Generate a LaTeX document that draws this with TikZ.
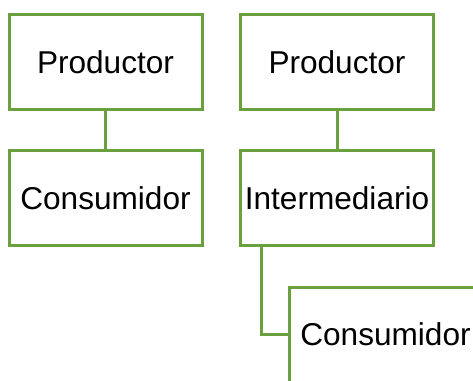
\documentclass[tikz,border=0pt]{standalone}
\usepackage{fontspec}
\setmainfont{Liberation Sans}
\definecolor{boxgreen}{RGB}{106,160,64}

\begin{document}
\begin{tikzpicture}[x=1pt,y=1pt,
        level/.style={draw=boxgreen,line width=3pt,fill=white,
            minimum width=193pt,minimum height=95pt,inner sep=2pt,
            font=\fontsize{31.6}{36}\selectfont},
        link/.style={draw=boxgreen,line width=3pt}]

        \useasboundingbox (0,0) rectangle (473,380);
        \clip (0,0) rectangle (473,380);

        % Define the boxes of the two chains
        \node[level] (prod1) at (105.5,317.5) {Productor};
        \node[level] (cons1) at (105.5,181.5) {Consumidor};
        \node[level] (prod2) at (337,317.5) {Productor};
        \node[level] (inter) at (337,181.5) {Intermediario};
        \node[level] (cons2) at (385.5,45.5) {Consumidor};

        % Draw the links between levels
        \draw[link] (prod1) -- (cons1);
        \draw[link] (prod2) -- (inter);
        \coordinate (bend) at (261,45.5);
        \draw[link] (inter.south -| bend) |- (cons2.west);

    \end{tikzpicture}
\end{document}
